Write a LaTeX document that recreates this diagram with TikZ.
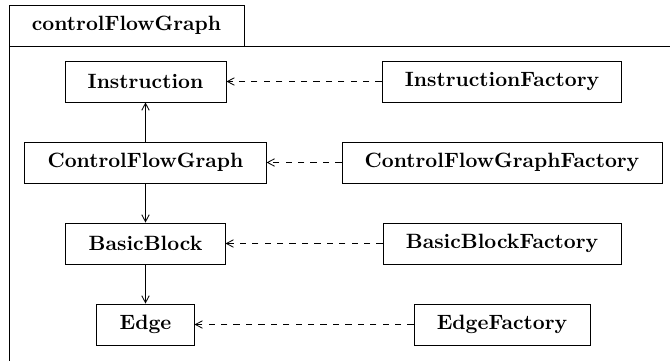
\documentclass[tikz,border=0pt]{standalone}
\usetikzlibrary{arrows.meta}
\begin{document}
\begin{tikzpicture}[x=0.483pt,y=-0.483pt,
  line width=0.4pt,
  cls/.style={draw, font=\bfseries, inner xsep=11pt, inner ysep=0pt, minimum height=19.8pt},
  assoc/.style={-{Straight Barb[length=3.4pt,width=3.6pt]}},
  dep/.style={assoc, dashed}]
\useasboundingbox (0,0) rectangle (670,360);
\clip (0,0) rectangle (670,360);
% package frame with its name tab
\draw (9,380) -- (9,5) -- (244,5) -- (244,46);
\draw (9,46) -- (690,46);
\node[font=\bfseries] (pkg) at (126.5,25.5) {controlFlowGraph};
% classes
\node[cls] (instr)  at (145.5,81.5)  {Instruction};
\node[cls] (cfg)    at (145.5,162.5) {ControlFlowGraph};
\node[cls] (bb)     at (145.5,243.5) {BasicBlock};
\node[cls] (edge)   at (145.5,324.5) {Edge};
% factories
\node[cls] (instrf) at (502,81.5)  {InstructionFactory};
\node[cls] (cfgf)   at (502,162.5) {ControlFlowGraphFactory};
\node[cls] (bbf)    at (502,243.5) {BasicBlockFactory};
\node[cls] (edgef)  at (502,324.5) {EdgeFactory};
% associations
\draw[assoc] (cfg) -- (instr);
\draw[assoc] (cfg) -- (bb);
\draw[assoc] (bb) -- (edge);
% dependencies
\draw[dep] (instrf) -- (instr);
\draw[dep] (cfgf) -- (cfg);
\draw[dep] (bbf) -- (bb);
\draw[dep] (edgef) -- (edge);
\end{tikzpicture}
\end{document}
